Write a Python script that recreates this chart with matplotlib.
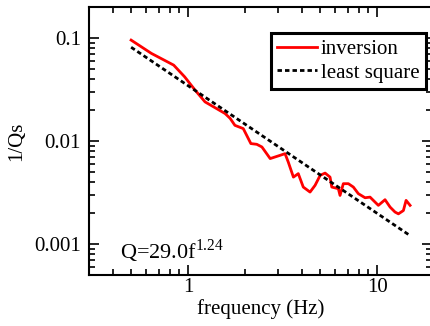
import numpy as np
import matplotlib as mpl
mpl.use("agg")
import matplotlib.pyplot as plt
from matplotlib.ticker import LogLocator, FixedLocator, FuncFormatter, NullFormatter

# inversion result
freq = [0.50, 0.64, 0.84, 0.96, 1.09, 1.23, 1.57, 1.67, 1.77, 1.96, 2.15, 2.31,
        2.46, 2.72, 3.07, 3.26, 3.39, 3.61, 3.83, 4.07, 4.42, 4.70, 5.00, 5.31,
        5.64, 5.76, 6.24, 6.37, 6.63, 7.05, 7.49, 7.96, 8.64, 9.18, 10.16, 11.02,
        11.72, 12.45, 12.97, 13.78, 14.24, 14.95]
inv_q = [0.0956, 0.0710, 0.0546, 0.0420, 0.0312, 0.0240, 0.0185, 0.0166, 0.0142,
         0.0132, 0.00944, 0.00929, 0.00875, 0.00675, 0.00726, 0.00754, 0.00625,
         0.00446, 0.00482, 0.00357, 0.00319, 0.00371, 0.00464, 0.00488, 0.00446,
         0.00357, 0.00344, 0.00296, 0.00385, 0.00385, 0.00357, 0.00308, 0.00281,
         0.00285, 0.00237, 0.00269, 0.00228, 0.00204, 0.00196, 0.00211, 0.00265,
         0.00237]

# least square fit line end points
fit_freq = [0.5, 15.0]
fit_inv_q = [0.0815, 0.00120]

fit_label = r'Q=29.0f$^{\mathregular{1.24}}$'

plt.rcParams['font.family'] = ['Liberation Serif', 'DejaVu Serif']
plt.rcParams['mathtext.fontset'] = 'custom'
plt.rcParams['mathtext.rm'] = 'Liberation Serif'

fig = plt.figure(figsize=(4.3, 3.26), dpi=100)
ax = fig.add_axes([0.2074, 0.1567, 0.797, 0.8215])

ax.plot(freq, inv_q, color='red', lw=2.0, label='inversion')
ax.plot(fit_freq, fit_inv_q, color='black', lw=2.0, ls=(0, (1.6, 1.1)),
        label='least square')

ax.set_xscale('log')
ax.set_yscale('log')
ax.set_xlim(0.3, 19.5)
ax.set_ylim(0.0005, 0.2)

ax.xaxis.set_major_locator(FixedLocator([1, 10]))
ax.xaxis.set_minor_locator(LogLocator(base=10, subs=np.arange(2, 10)))
ax.yaxis.set_major_locator(FixedLocator([0.001, 0.01, 0.1]))
ax.yaxis.set_minor_locator(LogLocator(base=10, subs=np.arange(2, 10)))
ax.xaxis.set_major_formatter(FuncFormatter(lambda v, p: '%g' % v))
ax.yaxis.set_major_formatter(FuncFormatter(lambda v, p: '%g' % v))
ax.xaxis.set_minor_formatter(NullFormatter())
ax.yaxis.set_minor_formatter(NullFormatter())

ax.tick_params(which='both', direction='in', top=True, right=True,
               labelsize=15, width=1.2)
ax.tick_params(which='major', length=7)
ax.tick_params(axis='x', which='major', pad=2)
ax.tick_params(axis='y', which='major', pad=6)
ax.tick_params(which='minor', length=4)
for s in ax.spines.values():
    s.set_linewidth(1.5)

ax.set_xlabel('frequency (Hz)', fontsize=15, labelpad=2)
ax.set_ylabel('1/Qs', fontsize=15, labelpad=6)

ax.text(0.09, 0.059, fit_label, transform=ax.transAxes, fontsize=16,
        ha='left', va='baseline')

leg = ax.legend(loc='upper right', bbox_to_anchor=(0.982, 0.903), fontsize=15,
                frameon=True, fancybox=False, shadow=False, framealpha=1,
                handlelength=1.9, handletextpad=0.2, borderpad=0.3,
                labelspacing=0.2, borderaxespad=0.0)
leg.get_frame().set_edgecolor('black')
leg.get_frame().set_linewidth(2.2)

plt.savefig('out.png', dpi=100)
